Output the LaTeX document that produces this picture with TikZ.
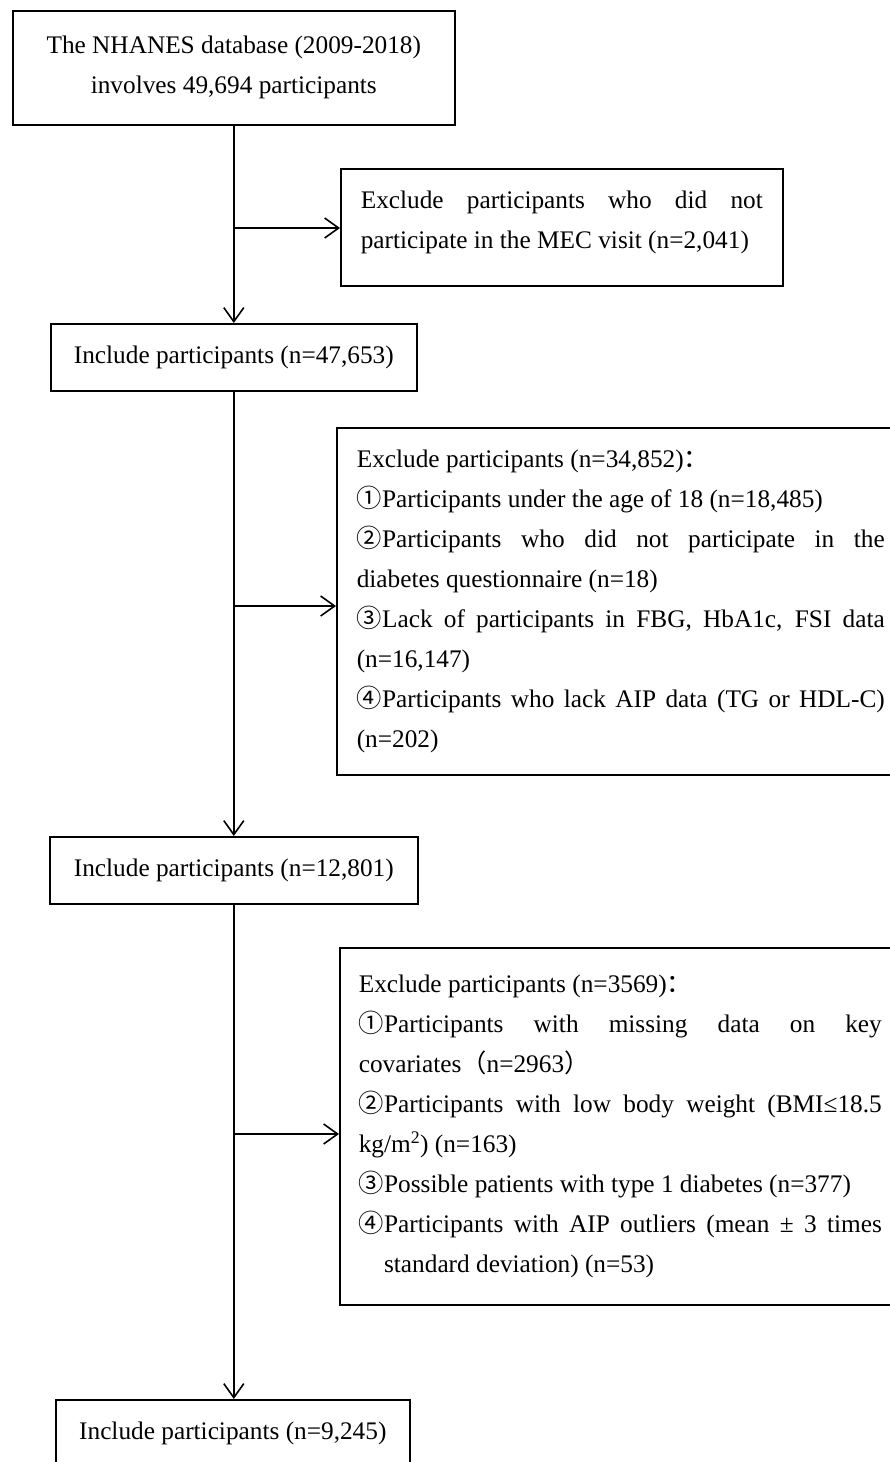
\documentclass[tikz,border=0pt]{standalone}
\usepackage{fontspec}
\setmainfont{Liberation Serif}
\newfontfamily\cjk{Noto Sans CJK SC}
\usetikzlibrary{arrows.meta,positioning,calc}
\tikzset{>={Straight Barb[width=20pt,length=14pt]}}
\tikzset{block/.style = {draw, rectangle, anchor=north west, inner sep=0pt,
                  align=center},
        exbox/.style = {draw, rectangle, anchor=north west, inner ysep=0pt,
                  align=justify}
    }
\newcommand{\cn}[1]{{\cjk #1}}
\newcommand{\boxfont}{\fontsize{25.3}{40}\selectfont
  \spaceskip=0.25em plus 1em minus 0.05em\relax
  \tolerance=9999\relax}

\begin{document}
\begin{tikzpicture}[x=1pt, y=-1pt, line width=1.6pt, font=\boxfont]
  \useasboundingbox (0,0) rectangle (889,1462);

  \node[block, minimum width=442pt, minimum height=114pt] (db) at (12,10)
    {The NHANES database (2009-2018)\\involves 49,694 participants};
  \node[exbox, text width=402pt, inner xsep=20pt, minimum height=117pt,
        text depth=56pt] (ex1) at (340,168)
    {Exclude participants who did not\linebreak
     participate in the MEC visit (n=2,041)};
  \node[block, minimum width=366pt, minimum height=67pt] (inc1) at (50,323)
    {Include participants (n=47,653)};

  \node[exbox, text width=528pt, inner xsep=20pt, minimum height=347pt] (ex2) at (336,427)
    {Exclude participants (n=34,852)\cn{：}\\
     \cn{①}Participants under the age of 18 (n=18,485)\\
     \cn{②}Participants who did not participate in the\linebreak
     diabetes questionnaire (n=18)\\
     \cn{③}Lack of participants in FBG, HbA1c, FSI data\linebreak
     (n=16,147)\\
     \cn{④}Participants who lack AIP data (TG or HDL-C)\linebreak
     (n=202)};
  \node[block, minimum width=368pt, minimum height=67pt] (inc2) at (49,836)
    {Include participants (n=12,801)};

  \node[exbox, text width=523pt, inner xsep=19pt, minimum height=357pt] (ex3) at (339,947)
    {Exclude participants (n=3569)\cn{：}\\
     \cn{①}Participants with missing data on key\linebreak
     covariates\cn{（}n=2963\cn{）}\\
     \cn{②}Participants with low body weight (BMI≤18.5\linebreak
     kg/m\textsuperscript{2}) (n=163)\\
     \cn{③}Possible patients with type 1 diabetes (n=377)\\
     \cn{④}Participants with AIP outliers (mean ± 3 times\linebreak
     \hspace*{1em}standard deviation) (n=53)};
  \node[block, minimum width=354pt, minimum height=67pt] (inc3) at (55,1399)
    {Include participants (n=9,245)};

  % main flow
  \draw[->] (db.south -| inc1.north) -- (inc1.north);
  \draw[->] (inc1.south) -- (inc2.north -| inc1.south);
  \draw[->] (inc2.south) -- (inc3.north -| inc2.south);

  % exclusions
  \coordinate (j1) at (233,228);
  \coordinate (j2) at (233,606);
  \coordinate (j3) at (233,1134);
  \draw[->] (j1) -- (j1 -| ex1.west);
  \draw[->] (j2) -- (j2 -| ex2.west);
  \draw[->] (j3) -- (j3 -| ex3.west);
\end{tikzpicture}
\end{document}
